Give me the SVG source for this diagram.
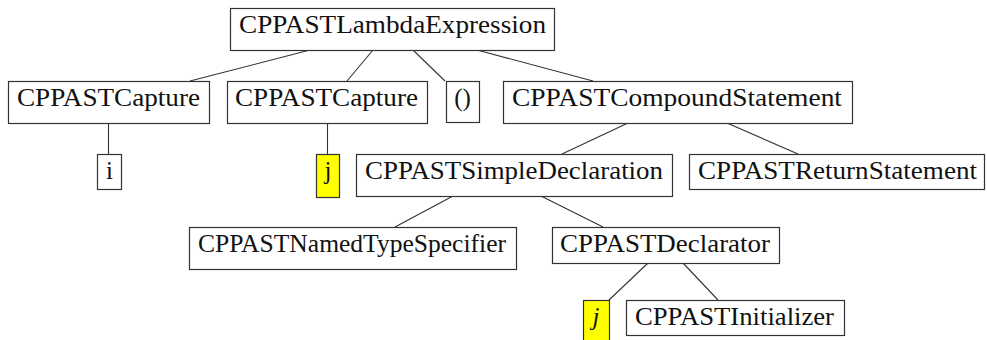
<svg xmlns="http://www.w3.org/2000/svg" width="987" height="340" viewBox="0 0 987 340">
<style>
.box{fill:#fff;stroke:#333;stroke-width:1.2}
.hl{fill:#ffff00;stroke:#333;stroke-width:1.2}
.t{font-family:'Liberation Serif','DejaVu Serif','Times New Roman',serif;font-size:25px;fill:#111;text-anchor:middle}
.it{font-style:italic}
#edges line{stroke:#333;stroke-width:1.1}
</style>
<rect width="987" height="340" fill="#fff"/>
<g id="edges">
<line x1="310" y1="50" x2="190" y2="81"/>
<line x1="373" y1="50" x2="347" y2="81"/>
<line x1="413" y1="50" x2="445" y2="81"/>
<line x1="477" y1="50" x2="593" y2="81"/>
<line x1="108.5" y1="123" x2="108.5" y2="154"/>
<line x1="327.5" y1="123" x2="327.5" y2="154"/>
<line x1="628" y1="123" x2="562" y2="154"/>
<line x1="727" y1="123" x2="798" y2="154"/>
<line x1="453" y1="196" x2="395" y2="227"/>
<line x1="541" y1="196" x2="603" y2="227"/>
<line x1="648" y1="263" x2="609" y2="300"/>
<line x1="683" y1="263" x2="718" y2="300"/>
</g>
<g class="t" font-family="Liberation Serif, DejaVu Serif, serif">
<g id="n-lambda"><rect class="box" x="230.5" y="8.5" width="324" height="42"/><text x="392.5" y="33" textLength="307" lengthAdjust="spacingAndGlyphs">CPPASTLambdaExpression</text></g>
<g id="n-capture1"><rect class="box" x="8.5" y="81.5" width="201" height="42"/><text x="108.5" y="106" textLength="183" lengthAdjust="spacingAndGlyphs">CPPASTCapture</text></g>
<g id="n-capture2"><rect class="box" x="227.5" y="81.5" width="200" height="42"/><text x="326.5" y="106" textLength="183" lengthAdjust="spacingAndGlyphs">CPPASTCapture</text></g>
<g id="n-parens"><rect class="box" x="446.5" y="81.5" width="33" height="41"/><text x="462.5" y="106">()</text></g>
<g id="n-compound"><rect class="box" x="503.5" y="81.5" width="349" height="42"/><text x="677" y="106" textLength="330" lengthAdjust="spacingAndGlyphs">CPPASTCompoundStatement</text></g>
<g id="n-i"><rect class="box" x="97.5" y="154.5" width="24" height="35"/><text x="109.5" y="179">i</text></g>
<g id="n-j1"><rect class="hl" x="316.5" y="154.5" width="23" height="43"/><text x="328" y="179">j</text></g>
<g id="n-simpledecl"><rect class="box" x="356.5" y="154.5" width="316" height="42"/><text x="514" y="179" textLength="298" lengthAdjust="spacingAndGlyphs">CPPASTSimpleDeclaration</text></g>
<g id="n-return"><rect class="box" x="689.5" y="154.5" width="295" height="35"/><text x="837.5" y="179" textLength="279" lengthAdjust="spacingAndGlyphs">CPPASTReturnStatement</text></g>
<g id="n-namedtype"><rect class="box" x="189.5" y="227.5" width="327" height="42"/><text x="352" y="252" textLength="308" lengthAdjust="spacingAndGlyphs">CPPASTNamedTypeSpecifier</text></g>
<g id="n-declarator"><rect class="box" x="552.5" y="227.5" width="227" height="36"/><text x="665" y="252" textLength="210" lengthAdjust="spacingAndGlyphs">CPPASTDeclarator</text></g>
<g id="n-j2"><rect class="hl" x="583.5" y="300.5" width="26" height="45"/><text class="it" x="596" y="325">j</text></g>
<g id="n-initializer"><rect class="box" x="626.5" y="300.5" width="218" height="35"/><text x="734.5" y="325" textLength="199" lengthAdjust="spacingAndGlyphs">CPPASTInitializer</text></g>
</g>
</svg>
